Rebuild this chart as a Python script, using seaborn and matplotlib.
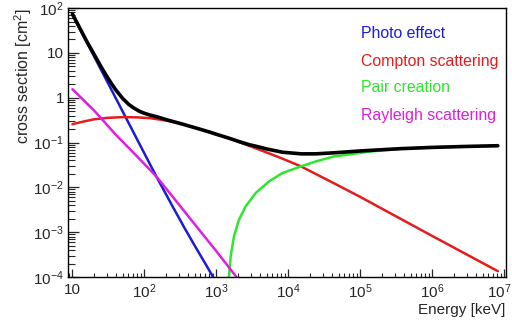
import numpy as np
import pandas as pd
import matplotlib
matplotlib.use("Agg")
import matplotlib.pyplot as plt
import matplotlib.ticker as mticker
import matplotlib.transforms as mtransforms
import seaborn as sns

# ------------------------------------------------------------
# data (energy in keV, sigma in cm^2)
# ------------------------------------------------------------
photo_e = [10, 20, 40, 80, 147, 250, 360, 500, 700, 900]
photo_s = [72, 8.4, 0.98, 0.114, 0.0173, 3.6e-3, 1.25e-3, 5.0e-4, 2.0e-4, 1.0e-4]

compton_e = [10, 15, 20, 30, 50, 80, 120, 200, 300, 500, 1000, 1500, 2830, 5000, 8200,
             1.47e4, 4.49e4, 1e5, 1e6, 8.1e6]
compton_s = [0.257, 0.30, 0.33, 0.355, 0.37, 0.365, 0.35, 0.31, 0.269, 0.217, 0.152, 0.124,
             0.085, 0.06, 0.044, 0.0298, 0.0119, 6.1e-3, 8.2e-4, 1.35e-4]

pair_e = [1440, 1496, 1578, 1754, 2056, 2546, 3505, 5360, 8210, 1.47e4, 2.37e4, 4.25e4,
          1.36e5, 3.55e5, 1e6, 3e6, 8.1e6]
pair_s = [5e-5, 1.03e-4, 2.9e-4, 8.1e-4, 1.9e-3, 3.76e-3, 7.47e-3, 0.0135, 0.0208, 0.0292,
          0.0377, 0.0488, 0.063, 0.0725, 0.078, 0.082, 0.0845]

rayleigh_e = [10, 20, 40, 70, 147, 300, 500, 1000, 1900]
rayleigh_s = [1.55, 0.52, 0.15, 0.06, 0.0174, 4.2e-3, 1.5e-3, 3.75e-4, 1.0e-4]

total_e = [10, 13, 16, 20, 25, 30, 35, 40, 50, 60, 70, 85, 100, 120, 150, 200, 300, 500,
           800, 1000, 1500, 2000, 2830, 4000, 5000, 8200, 1.5e4, 2.4e4, 4.25e4, 1e5,
           3.55e5, 1e6, 3e6, 8.1e6]
total_s = [74, 33, 17.5, 9.3, 4.9, 3.0, 2.05, 1.5, 0.96, 0.72, 0.6, 0.5, 0.45, 0.41, 0.375,
           0.325, 0.272, 0.215, 0.172, 0.153, 0.125, 0.107, 0.09, 0.079, 0.072, 0.061,
           0.056, 0.056, 0.059, 0.065, 0.073, 0.078, 0.082, 0.085]

labels = ["Photo effect", "Compton scattering", "Pair creation", "Rayleigh scattering"]
colors = ["#1c1cd8", "#e61c1c", "#2ee62e", "#e01ee0"]

xticks = [10, 1e2, 1e3, 1e4, 1e5, 1e6, 1e7]
xtick_labels = ["10", "10$^{2}$", "10$^{3}$", "10$^{4}$", "10$^{5}$", "10$^{6}$", "10$^{7}$"]
yticks = [1e-4, 1e-3, 1e-2, 1e-1, 1, 10, 1e2]
ytick_labels = ["10$^{-4}$", "10$^{-3}$", "10$^{-2}$", "10$^{-1}$", "1", "10", "10$^{2}$"]

# ------------------------------------------------------------
# style
# ------------------------------------------------------------
sns.set_style("ticks")
plt.rcParams['font.family'] = ['Liberation Sans', 'DejaVu Sans']
plt.rcParams['mathtext.fontset'] = 'custom'
plt.rcParams['mathtext.rm'] = 'Liberation Sans'
plt.rcParams['mathtext.it'] = 'Liberation Sans'
plt.rcParams['mathtext.bf'] = 'Liberation Sans'

fig = plt.figure(figsize=(5.12, 3.24), dpi=100)
ax = fig.add_axes([0.133, 0.145, 0.855, 0.830])

series = [(photo_e, photo_s), (compton_e, compton_s), (pair_e, pair_s), (rayleigh_e, rayleigh_s)]
for (e, s), c in zip(series, colors):
    sns.lineplot(x=e, y=s, ax=ax, color=c, lw=1.8, sort=False, estimator=None)
sns.lineplot(x=total_e, y=total_s, ax=ax, color="black", lw=2.6, sort=False, estimator=None)

ax.set_xscale("log")
ax.set_yscale("log")
ax.set_xlim(10 ** 0.94, 10 ** 7.02)
ax.set_ylim(1e-4, 1e2)

ax.xaxis.set_major_locator(mticker.FixedLocator(xticks))
ax.xaxis.set_major_formatter(mticker.FixedFormatter(xtick_labels))
ax.yaxis.set_major_locator(mticker.FixedLocator(yticks))
ax.yaxis.set_major_formatter(mticker.FixedFormatter(ytick_labels))
ax.xaxis.set_minor_locator(mticker.LogLocator(base=10, subs=np.arange(2, 10)))
ax.yaxis.set_minor_locator(mticker.LogLocator(base=10, subs=np.arange(2, 10)))
ax.xaxis.set_minor_formatter(mticker.NullFormatter())
ax.yaxis.set_minor_formatter(mticker.NullFormatter())

ax.tick_params(axis="x", which="major", direction="in", length=6, width=0.9, labelsize=11, pad=4)
ax.tick_params(axis="x", which="minor", direction="in", length=3, width=0.8)
ax.tick_params(axis="y", which="major", direction="in", length=8, width=0.9, labelsize=11, pad=3)
ax.tick_params(axis="y", which="minor", direction="in", length=5, width=0.8)
for sp in ax.spines.values():
    sp.set_linewidth(1.0)
    sp.set_color("black")

ax.set_xlabel("Energy [keV]", loc="right", fontsize=11, labelpad=1)
ax.set_ylabel("cross section [cm$^{2}$]", loc="top", fontsize=11.5, labelpad=-1)

# keep the last x tick label inside the figure
fig.canvas.draw()
last = ax.get_xticklabels()[-1]
last.set_transform(last.get_transform() +
                   mtransforms.ScaledTranslation(-5 / 100, 0, fig.dpi_scale_trans))

ypos = [0.907, 0.803, 0.703, 0.602]
for lab, c, yp in zip(labels, colors, ypos):
    ax.text(0.669, yp, lab, color=c, fontsize=11.4, transform=ax.transAxes, va="center", ha="left")

plt.savefig("out.png", dpi=100)
plt.close()
